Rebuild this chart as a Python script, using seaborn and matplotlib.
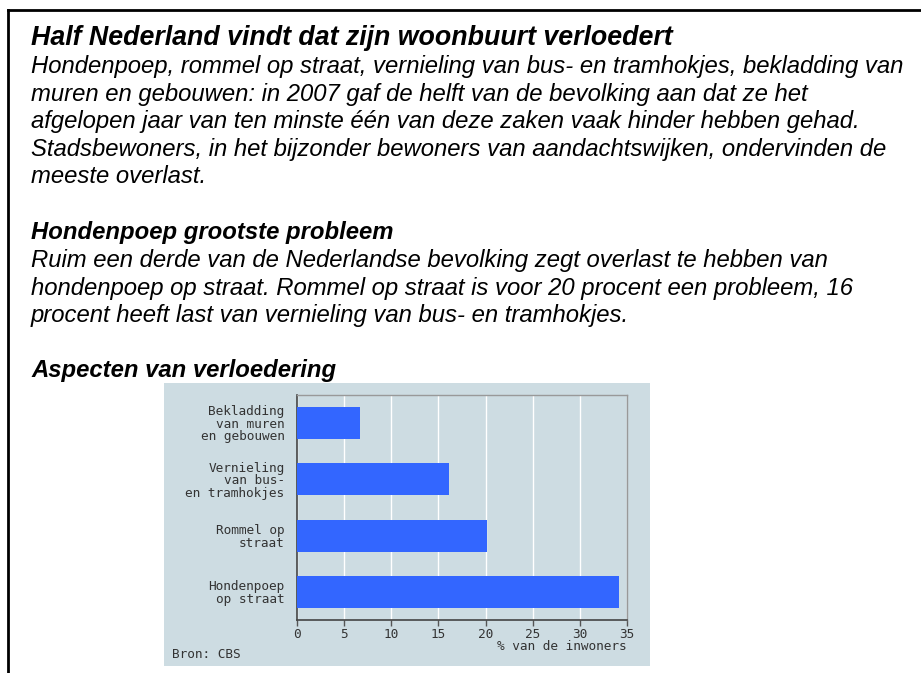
import pandas as pd
import matplotlib.pyplot as plt
import seaborn as sns
from matplotlib.patches import Rectangle

# chart data
categories = ["Bekladding\nvan muren\nen gebouwen",
              "Vernieling\nvan bus-\nen tramhokjes",
              "Rommel op\nstraat",
              "Hondenpoep\nop straat"]
values = [6.7, 16.1, 20.2, 34.2]
x_ticks = [0, 5, 10, 15, 20, 25, 30, 35]

# text blocks
title = "Half Nederland vindt dat zijn woonbuurt verloedert"
intro_lines = [
    "Hondenpoep, rommel op straat, vernieling van bus- en tramhokjes, bekladding van",
    "muren en gebouwen: in 2007 gaf de helft van de bevolking aan dat ze het",
    "afgelopen jaar van ten minste één van deze zaken vaak hinder hebben gehad.",
    "Stadsbewoners, in het bijzonder bewoners van aandachtswijken, ondervinden de",
    "meeste overlast.",
]
heading2 = "Hondenpoep grootste probleem"
body2_lines = [
    "Ruim een derde van de Nederlandse bevolking zegt overlast te hebben van",
    "hondenpoep op straat. Rommel op straat is voor 20 procent een probleem, 16",
    "procent heeft last van vernieling van bus- en tramhokjes.",
]
heading3 = "Aspecten van verloedering"
x_label = "% van de inwoners"
source = "Bron: CBS"

df = pd.DataFrame({"aspect": categories, "pct": values})

W, H = 921, 673
fig = plt.figure(figsize=(W / 100, H / 100), dpi=100)
fig.patch.set_facecolor("white")

def fy(py):
    return 1 - py / H

def fx(px):
    return px / W

# outer frame (top and left lines only)
fig.add_artist(plt.Line2D([fx(8), 1], [fy(10), fy(10)], color="black", lw=2))
fig.add_artist(plt.Line2D([fx(8), fx(8)], [fy(10), 0], color="black", lw=2))

# text
txt_font = ["Liberation Sans", "DejaVu Sans"]
body_size = 17.2
fig.text(fx(31), fy(45), title, fontsize=19.3, fontweight="bold", style="italic",
         family=txt_font, va="baseline")
for i, line in enumerate(intro_lines):
    fig.text(fx(31), fy(73 + i * 27.6), line, fontsize=body_size, style="italic",
             family=txt_font, va="baseline")
fig.text(fx(31), fy(239), heading2, fontsize=body_size, fontweight="bold", style="italic",
         family=txt_font, va="baseline")
for i, line in enumerate(body2_lines):
    fig.text(fx(31), fy(267 + i * 27.5), line, fontsize=body_size, style="italic",
             family=txt_font, va="baseline")
fig.text(fx(31), fy(377), heading3, fontsize=body_size, fontweight="bold", style="italic",
         family=txt_font, va="baseline")

# grey chart panel
fig.patches.append(Rectangle((fx(164), fy(666)), fx(650) - fx(164), fy(383) - fy(666),
                             transform=fig.transFigure, facecolor="#cddce2",
                             edgecolor="none", zorder=-5))

ax = fig.add_axes([fx(297), fy(620), fx(627) - fx(297), fy(395) - fy(620)])
ax.set_facecolor("#cddce2")
sns.barplot(data=df, x="pct", y="aspect", orient="h", color="#3366ff",
            saturation=1, width=0.57, ax=ax, zorder=3)
ax.set_xlim(0, 35)
ax.set_xticks(x_ticks)
ax.xaxis.grid(True, color="white", lw=1, zorder=0)
ax.set_axisbelow(True)
ax.set_xlabel("")
ax.set_ylabel("")

chart_font = "DejaVu Sans Mono"
chart_size = 9.2
ax.set_xticklabels([str(t) for t in x_ticks], family=chart_font, fontsize=chart_size,
                   color="#333333")
ax.set_yticklabels(categories, family=chart_font, fontsize=chart_size, color="#333333",
                   ha="right", multialignment="right", linespacing=0.95)
ax.tick_params(axis="y", length=0, pad=9)
ax.tick_params(axis="x", length=4, width=1, color="#555555", pad=2, direction="out")
for side in ["left", "bottom"]:
    ax.spines[side].set_color("#444444")
    ax.spines[side].set_linewidth(1.2)
for side in ["top", "right"]:
    ax.spines[side].set_color("#999999")
    ax.spines[side].set_linewidth(1)

fig.text(fx(627), fy(646), x_label, family=chart_font, fontsize=chart_size, color="#333333",
         ha="right", va="center")
fig.text(fx(172), fy(655), source, family=chart_font, fontsize=chart_size, color="#333333",
         ha="left", va="center")

fig.savefig("out.png", dpi=100)
